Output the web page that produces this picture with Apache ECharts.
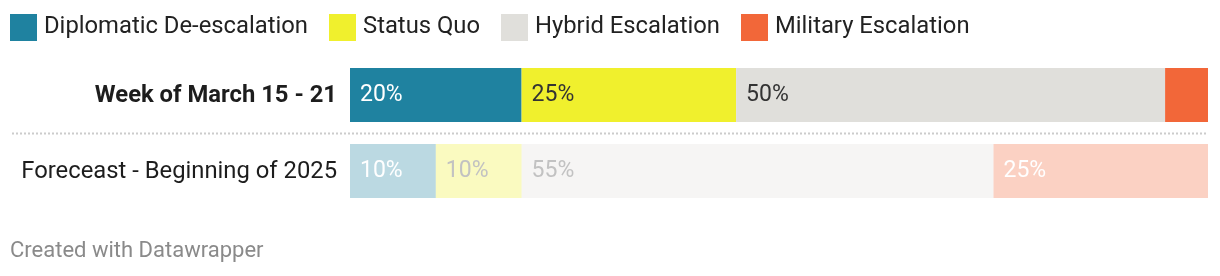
<!DOCTYPE html>
<html>
<head>
<meta charset="utf-8">
<script src="https://cdn.jsdelivr.net/npm/echarts@6/dist/echarts.min.js"></script>
<style>
  html, body { margin: 0; padding: 0; background: #fff; }
  #chart { width: 1220px; height: 276px; }
</style>
</head>
<body>
<div id="chart"></div>
<script>
const categories = ['Week of March 15 - 21', 'Foreceast - Beginning of 2025'];
const seriesNames = ['Diplomatic De-escalation', 'Status Quo', 'Hybrid Escalation', 'Military Escalation'];
const diplomatic = [20, 10];
const statusQuo = [25, 10];
const hybrid = [50, 55];
const military = [5, 25];

const colors = ['#1f82a0', '#f0f02d', '#e0dfdb', '#f26739'];
const fadedColors = ['rgba(31,130,160,0.3)', 'rgba(240,240,45,0.3)', 'rgba(224,223,219,0.3)', 'rgba(242,103,57,0.3)'];
const labelColors = ['#ffffff', '#333333', '#333333', '#ffffff'];
const fadedLabelColors = ['#ffffff', '#c2c2c2', '#c2c2c2', '#ffffff'];
const values = [diplomatic, statusQuo, hybrid, military];
const FONT = 'Roboto';

const chart = echarts.init(document.getElementById('chart'), null, { renderer: 'canvas' });

const series = values.map((vals, si) => ({
  name: seriesNames[si],
  type: 'bar',
  stack: 'total',
  barWidth: 54,
  itemStyle: { color: colors[si] },
  label: {
    show: true,
    position: 'insideLeft',
    distance: 10,
    fontFamily: FONT,
    fontSize: 23,
    color: labelColors[si],
    padding: [3, 0, 0, 0],
    formatter: p => (p.value >= 8 ? p.value + '%' : '')
  },
  emphasis: { disabled: true },
  data: vals.map((v, i) => ({
    value: v,
    itemStyle: { color: i === 1 ? fadedColors[si] : colors[si] },
    label: { color: i === 1 ? fadedLabelColors[si] : labelColors[si] }
  }))
}));

chart.setOption({
  animation: false,
  color: colors,
  legend: {
    left: 10,
    top: 14,
    padding: 0,
    itemWidth: 27,
    itemHeight: 27,
    itemGap: 21,
    icon: 'rect',
    selectedMode: false,
    textStyle: { fontFamily: FONT, fontSize: 23.8, color: '#222', padding: [0, 0, 0, 2] },
    data: seriesNames
  },
  title: {
    text: 'Created with Datawrapper',
    left: 10,
    top: 240,
    padding: 0,
    textStyle: { fontFamily: FONT, fontSize: 22, fontWeight: 'normal', color: '#8a8a8a' }
  },
  grid: { left: 350, right: 12, top: 57, bottom: 67 },
  xAxis: {
    type: 'value',
    min: 0,
    max: 100,
    show: false
  },
  yAxis: {
    type: 'category',
    inverse: true,
    data: categories,
    axisLine: { show: false },
    axisTick: { show: false },
    splitLine: { show: false },
    axisLabel: {
      margin: 13,
      fontFamily: FONT,
      fontSize: 23.8,
      color: '#1d1d1d',
      formatter: (v, i) => (i === 0 ? '{b|' + v + '}' : '{n|' + v + '}'),
      rich: {
        b: { fontFamily: FONT, fontSize: 23.8, fontWeight: 'bold', color: '#1d1d1d', padding: [3, 0, 0, 0] },
        n: { fontFamily: FONT, fontSize: 23.8, color: '#1d1d1d', padding: [3, 0, 0, 0] }
      }
    }
  },
  series: series
});

// dotted separator between the two rows, positioned from the axis scale
const y0 = chart.convertToPixel({ yAxisIndex: 0 }, categories[0]);
const y1 = chart.convertToPixel({ yAxisIndex: 0 }, categories[1]);
const xEnd = chart.convertToPixel({ xAxisIndex: 0 }, 100);
const sepY = Math.round((y0 + y1) / 2) + 0.5;
chart.setOption({
  graphic: [{
    type: 'line',
    shape: { x1: 12, y1: sepY, x2: xEnd, y2: sepY },
    style: { stroke: '#cccccc', lineWidth: 2, lineDash: [2, 2] },
    silent: true
  }]
});
</script>
</body>
</html>
